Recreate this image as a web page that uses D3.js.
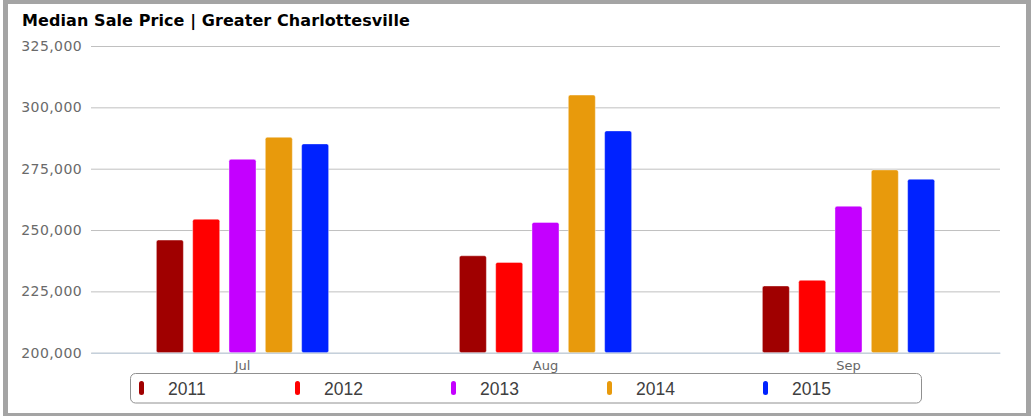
<!DOCTYPE html>
<html>
<head>
<meta charset="utf-8">
<script src="https://cdn.jsdelivr.net/npm/d3@7"></script>
<style>
  html, body { margin: 0; padding: 0; background: #fff; }
  svg { display: block; }
</style>
</head>
<body>
<script>
const months = ["Jul", "Aug", "Sep"];
const years = ["2011", "2012", "2013", "2014", "2015"];
const colors = ["#a00000", "#ff0000", "#c400ff", "#e89a0c", "#0022ff"];
const v2011 = [245900, 239500, 227200];
const v2012 = [254400, 236800, 229500];
const v2013 = [278800, 253100, 259700];
const v2014 = [287800, 305000, 274500];
const v2015 = [285100, 290400, 270700];
const yTicks = [200000, 225000, 250000, 275000, 300000, 325000];
const title = "Median Sale Price | Greater Charlottesville";

const series = [v2011, v2012, v2013, v2014, v2015];
const W = 1031, H = 416;
const svg = d3.select("body").append("svg").attr("width", W).attr("height", H);

// frame
svg.append("rect").attr("x", 3).attr("y", 0).attr("width", W - 3).attr("height", H).attr("fill", "#a4a4a4");
svg.append("rect").attr("x", 8).attr("y", 4).attr("width", 1018).attr("height", 409).attr("fill", "#fff");

const plotL = 91, plotR = 1000, plotT = 46, plotB = 352.7;
const y = d3.scaleLinear().domain([200000, 325000]).range([plotB, plotT]);
const x = d3.scaleBand().domain(months).range([plotL, plotR]).paddingInner(0).paddingOuter(0);
const xs = d3.scaleBand().domain(years).range([0, x.bandwidth()]).paddingInner(0.256).paddingOuter(1.8);

// title
svg.append("text").attr("x", 22).attr("y", 26)
  .attr("font-family", "DejaVu Sans").attr("font-weight", "bold").attr("font-size", 16)
  .attr("letter-spacing", 0.08)
  .attr("fill", "#000").text(title);

// gridlines
const yAxis = d3.axisLeft(y).tickValues(yTicks).tickSize(-(plotR - plotL)).tickPadding(9)
  .tickFormat(d3.format(","));
const gy = svg.append("g").attr("transform", `translate(${plotL},0)`).call(yAxis);
gy.select(".domain").remove();
gy.selectAll(".tick line").attr("stroke", "#c0c0c0").attr("stroke-width", 1);
gy.selectAll(".tick text").attr("font-family", "DejaVu Sans").attr("font-size", 14)
  .attr("letter-spacing", 0.4).attr("fill", "#6a6a6a");

// bars
years.forEach((yr, i) => {
  svg.append("g").selectAll("rect").data(series[i]).join("rect")
    .attr("x", (d, j) => x(months[j]) + xs(yr))
    .attr("y", d => y(d))
    .attr("width", xs.bandwidth())
    .attr("height", d => plotB - y(d))
    .attr("rx", 2)
    .attr("fill", colors[i])
    .attr("stroke", "#fff").attr("stroke-opacity", 0.4).attr("stroke-width", 1);
});

// x axis
const xAxis = d3.axisBottom(x).tickSize(0).tickPadding(8);
const gx = svg.append("g").attr("transform", `translate(0,${plotB})`).call(xAxis);
gx.select(".domain").attr("stroke", "#c0d0e0").attr("stroke-width", 1);
gx.selectAll(".tick text").attr("font-family", "DejaVu Sans").attr("font-size", 13).attr("fill", "#666");

// legend
const lg = svg.append("g");
lg.append("rect").attr("x", 130.5).attr("y", 373.5).attr("width", 791).attr("height", 29.5)
  .attr("rx", 5).attr("fill", "none").attr("stroke", "#909090").attr("stroke-width", 1);
const item = lg.selectAll("g.item").data(years).join("g").attr("class", "item")
  .attr("transform", (d, i) => `translate(${139 + i * 156},0)`);
item.append("rect").attr("x", 0).attr("y", 381).attr("width", 5).attr("height", 14).attr("rx", 2.5)
  .attr("fill", (d, i) => colors[i]);
item.append("text").attr("x", 29).attr("y", 394.5)
  .attr("font-family", "Liberation Sans, Arial").attr("font-size", 17.5).attr("fill", "#404040")
  .text(d => d);
</script>
</body>
</html>
